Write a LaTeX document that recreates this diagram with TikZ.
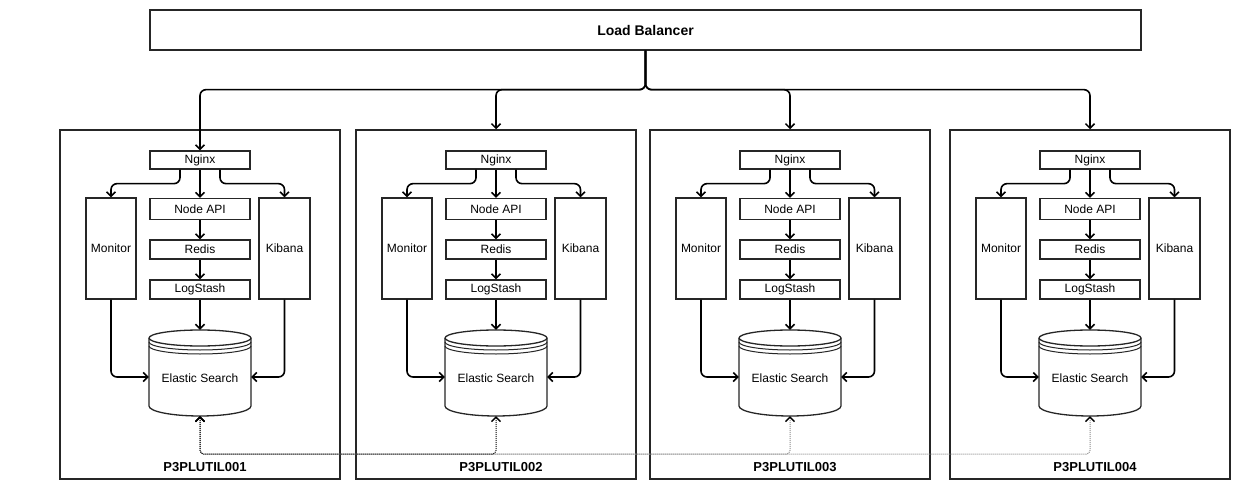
\documentclass[tikz,border=0pt]{standalone}
\usepackage{fontspec}
\setmainfont{Liberation Sans}
\usetikzlibrary{arrows.meta}
\tikzset{
  box/.style={draw=black!85, line width=1.3pt, fill=white, inner sep=0pt, font=\fontsize{12}{14}\selectfont},
  clusterbox/.style={draw=black!85, line width=1.5pt, inner sep=0pt, minimum width=280pt, minimum height=349pt},
  tip/.style={-{Straight Barb[length=4.5pt,width=9pt,line width=1.5pt]}},
  conn/.style={line width=1.6pt, rounded corners=6pt, tip},
  dotconn/.style={line width=1pt, densely dotted, rounded corners=4pt,
    {Straight Barb[length=4.5pt,width=9pt,line width=1.3pt,color=black]}-{Straight Barb[length=4.5pt,width=9pt,line width=1.3pt,color=black]}},
  cyl/.style={draw=black!85, line width=1.3pt},
  cluslabel/.style={font=\bfseries\fontsize{13}{15}\selectfont},
}
\begin{document}
\begin{tikzpicture}[x=1pt,y=-1pt]
\useasboundingbox (0,0) rectangle (1250,500);
\fill[white] (0,0) rectangle (1250,500);

\node[box, minimum width=991pt, minimum height=40pt, font=\bfseries\fontsize{14}{16}\selectfont] (lb) at (645.5,30) {Load Balancer};

\foreach \i/\cx in {1/200, 2/496, 3/790, 4/1090} {
  \node[clusterbox] (cl\i) at (\cx,304.5) {};
  \node[cluslabel] (lab\i) at (\cx+5,467) {P3PLUTIL00\i};
  \node[box, minimum width=100pt, minimum height=18pt] (nginx\i) at (\cx,160) {Nginx};
  \node[box, minimum width=100pt, minimum height=21pt] (api\i) at (\cx,209) {Node API};
  \node[box, minimum width=100pt, minimum height=19pt] (redis\i) at (\cx,249.5) {Redis};
  \node[box, minimum width=100pt, minimum height=19pt] (log\i) at (\cx,289.5) {LogStash};
  \node[box, minimum width=50pt, minimum height=101pt] (mon\i) at (\cx-89,248.5) {Monitor};
  \node[box, minimum width=51pt, minimum height=101pt] (kib\i) at (\cx+84.5,248.5) {Kibana};
  % cylinder
  \node[inner sep=0pt, minimum width=102pt, minimum height=86pt] (es\i) at (\cx,373) {};
  \fill[white] (\cx-51,338) arc[start angle=180, end angle=360, x radius=51, y radius=8]
    -- (\cx+51,406) arc[start angle=0, end angle=180, x radius=51, y radius=10] -- cycle;
  \draw[cyl] (\cx-51,338) -- (\cx-51,406) arc[start angle=180, end angle=0, x radius=51, y radius=10]
    -- (\cx+51,338) arc[start angle=0, end angle=-180, x radius=51, y radius=8];
  \draw[cyl] (\cx-51,338) arc[start angle=180, end angle=0, x radius=51, y radius=8];
  \draw[cyl, line width=1pt] (\cx-51,342) arc[start angle=180, end angle=0, x radius=51, y radius=8];
  \draw[cyl, line width=1pt] (\cx-51,346) arc[start angle=180, end angle=0, x radius=51, y radius=8];
  \node[font=\fontsize{12}{14}\selectfont] (estext\i) at (\cx,378) {Elastic Search};
  % connectors
  \draw[conn] ([xshift=-20pt]nginx\i.south) -- ++(0,14) -| (mon\i.north);
  \draw[conn] ([xshift=20pt]nginx\i.south) -- ++(0,14) -| (kib\i.north);
  \draw[conn] (nginx\i.south) -- (api\i.north);
  \draw[conn] (api\i.south) -- (redis\i.north);
  \draw[conn] (redis\i.south) -- (log\i.north);
  \draw[conn] (log\i.south) -- (es\i.north);
  \draw[conn] (mon\i.south) |- ([yshift=-4pt]es\i.west);
  \draw[conn] (kib\i.south) |- ([yshift=-4pt]es\i.east);
}

% load balancer to clusters
\draw[conn] (lb.south) -- ++(0,39) -| (nginx1.north);
\draw[conn] (lb.south) -- ++(0,39) -| (cl2.north);
\draw[conn] (lb.south) -- ++(0,39) -| (cl3.north);
\draw[conn] (lb.south) -- ++(0,39) -| (cl4.north);

% replication links between elastic search nodes
\draw[dotconn, black!45] (es1.south) -- ++(0,38) -| (es4.south);
\draw[dotconn, black!45] (es1.south) -- ++(0,38) -| (es3.south);
\draw[dotconn, black] (es1.south) -- ++(0,38) -| (es2.south);
\end{tikzpicture}
\end{document}
